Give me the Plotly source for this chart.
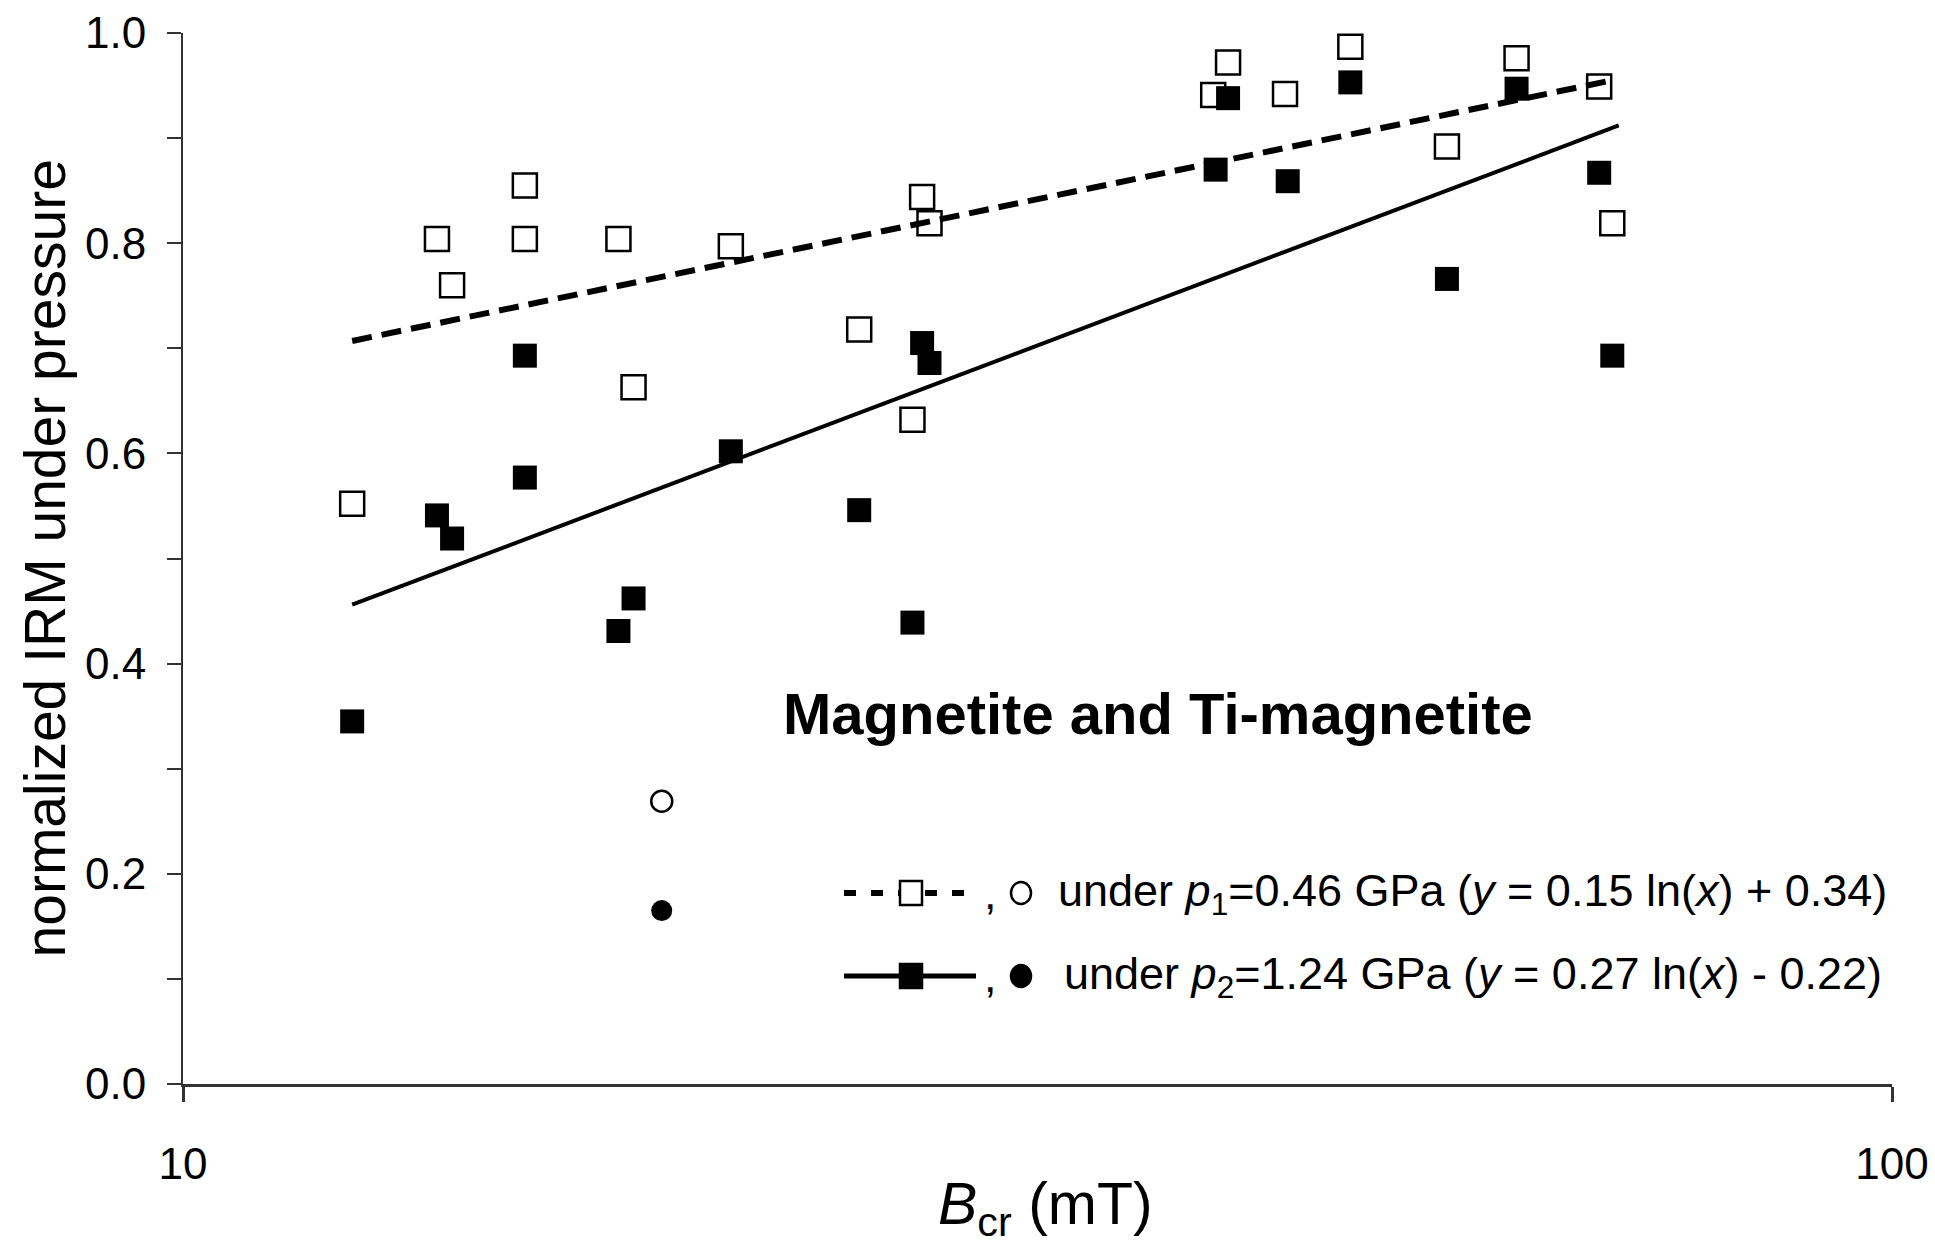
import plotly.graph_objects as go

# ---------------- data ----------------
bcr_p1 = [12.56, 14.08, 14.37, 15.85, 15.85, 17.98, 18.35, 20.92, 24.87, 26.72,
          27.07, 27.34, 40.07, 40.88, 44.14, 48.2, 54.9, 60.3, 67.4, 68.6]
irm_p1 = [0.552, 0.804, 0.760, 0.855, 0.804, 0.804, 0.663, 0.797, 0.718, 0.632,
          0.844, 0.819, 0.941, 0.972, 0.942, 0.987, 0.892, 0.976, 0.949, 0.819]

bcr_p2 = [12.56, 14.08, 14.37, 15.85, 15.85, 17.98, 18.35, 20.92, 24.87, 26.72,
          27.07, 27.34, 40.2, 40.88, 44.3, 48.2, 54.9, 60.3, 67.4, 68.6]
irm_p2 = [0.345, 0.541, 0.519, 0.693, 0.577, 0.431, 0.462, 0.602, 0.546, 0.439,
          0.705, 0.686, 0.870, 0.938, 0.859, 0.953, 0.766, 0.947, 0.867, 0.693]

# excluded sample (circles)
bcr_out = [19.06]
irm_out_p1 = [0.269]
irm_out_p2 = [0.165]

# logarithmic trend lines (end points)
fit1_x = [12.56, 68.6]
fit1_y = [0.707, 0.955]
fit2_x = [12.56, 69.2]
fit2_y = [0.456, 0.912]

y_ticks = [0.0, 0.2, 0.4, 0.6, 0.8, 1.0]
y_ticktext = ["0.0", "0.2", "0.4", "0.6", "0.8", "1.0"]
y_minor_ticks = [0.1, 0.3, 0.5, 0.7, 0.9]
x_ticks = [10, 100]
x_ticktext = ["10", "100"]

legend1 = "under <i>p</i><sub>1</sub>=0.46 GPa (<i>y</i> = 0.15 ln(<i>x</i>) + 0.34)"
legend2 = "under <i>p</i><sub>2</sub>=1.24 GPa (<i>y</i> = 0.27 ln(<i>x</i>) - 0.22)"
panel_title = "<b>Magnetite and Ti-magnetite</b>"
x_title = "<i>B</i><sub>cr</sub> (mT)"
y_title = "normalized IRM under pressure"

# ---------------- figure ----------------
FONT = "Liberation Sans, Arial, sans-serif"
OFF = 0                      # body margin is removed by the post script
WIN_W, WIN_H = 1935, 1253
PL, PR, PT, PB = 183, 1892, 33, 1084   # plot area in page pixels
W, H = WIN_W - 2 * OFF, WIN_H - 2 * OFF
ML, MT = PL - OFF, PT - OFF
MR, MB = OFF + W - PR, OFF + H - PB
PW, PH = PR - PL, PB - PT

def px(x):
    return (x - PL) / PW

def py(y):
    return (PB - y) / PH

MS = 24
DASH = "20px,10px"
LEG_DASH = "12px,15px"

fig = go.Figure()

fig.add_trace(go.Scatter(
    x=bcr_p1, y=irm_p1, mode="markers", showlegend=False,
    marker=dict(symbol="square", size=MS, color="white", line=dict(color="black", width=2.5)),
    cliponaxis=False))
fig.add_trace(go.Scatter(
    x=bcr_p2, y=irm_p2, mode="markers", showlegend=False,
    marker=dict(symbol="square", size=MS, color="black", line=dict(color="black", width=0)),
    cliponaxis=False))
fig.add_trace(go.Scatter(
    x=bcr_out, y=irm_out_p1, mode="markers", showlegend=False,
    marker=dict(symbol="circle", size=MS - 3, color="white", line=dict(color="black", width=2.5))))
fig.add_trace(go.Scatter(
    x=bcr_out, y=irm_out_p2, mode="markers", showlegend=False,
    marker=dict(symbol="circle", size=MS - 3, color="black", line=dict(color="black", width=0))))
fig.add_trace(go.Scatter(
    x=fit1_x, y=fit1_y, mode="lines", showlegend=False,
    line=dict(color="black", width=6, dash=DASH)))
fig.add_trace(go.Scatter(
    x=fit2_x, y=fit2_y, mode="lines", showlegend=False,
    line=dict(color="black", width=4)))

shapes = []
annotations = []

LEG_FONT = 45
rows = [
    dict(y=893, dash=LEG_DASH, lw=6, sq_fill="white", circ_fill="white", text=legend1, tx=1056),
    dict(y=976, dash="solid", lw=5, sq_fill="black", circ_fill="black", text=legend2, tx=1062),
]
for r in rows:
    yy = py(r["y"])
    shapes.append(dict(type="line", xref="paper", yref="paper",
                       x0=px(844), x1=px(976), y0=yy, y1=yy,
                       line=dict(color="black", width=r["lw"], dash=r["dash"])))
    shapes.append(dict(type="rect", xref="paper", yref="paper",
                       xsizemode="pixel", ysizemode="pixel",
                       xanchor=px(911), yanchor=yy,
                       x0=-11, x1=11, y0=-12, y1=12,
                       fillcolor=r["sq_fill"], line=dict(color="black", width=2.5)))
    shapes.append(dict(type="circle", xref="paper", yref="paper",
                       xsizemode="pixel", ysizemode="pixel",
                       xanchor=px(1021), yanchor=yy,
                       x0=-10, x1=10, y0=-11, y1=11,
                       fillcolor=r["circ_fill"], line=dict(color="black", width=2.5)))
    annotations.append(dict(text=",", xref="paper", yref="paper",
                            x=px(982), y=yy, xanchor="left", yanchor="middle",
                            showarrow=False, font=dict(family=FONT, size=LEG_FONT, color="black")))
    annotations.append(dict(text=r["text"], xref="paper", yref="paper",
                            x=px(r["tx"]), y=yy, xanchor="left", yanchor="middle",
                            showarrow=False, font=dict(family=FONT, size=LEG_FONT, color="black")))

annotations.append(dict(text=panel_title, xref="paper", yref="paper",
                        x=px(1158), y=py(713), xanchor="center", yanchor="middle",
                        showarrow=False, font=dict(family=FONT, size=58, color="black")))
annotations.append(dict(text=x_title, xref="paper", yref="paper",
                        x=px(1045), y=py(1208), xanchor="center", yanchor="middle",
                        showarrow=False, font=dict(family=FONT, size=59, color="black")))
annotations.append(dict(text=y_title, xref="paper", yref="paper",
                        x=px(44), y=0.5, xanchor="center", yanchor="middle", textangle=-90,
                        showarrow=False, font=dict(family=FONT, size=57, color="black")))

fig.update_layout(
    width=W, height=H,
    margin=dict(l=ML, r=MR, t=MT, b=MB, pad=0, autoexpand=False),
    paper_bgcolor="white", plot_bgcolor="white",
    font=dict(family=FONT, size=44, color="black"),
    shapes=shapes, annotations=annotations, showlegend=False,
)
fig.update_xaxes(
    type="log", range=[1, 2], tickvals=x_ticks, ticktext=x_ticktext,
    automargin=False, ticklabeloverflow="allow",
    showline=True, linecolor="#333333", linewidth=2.5, mirror=False,
    ticks="outside", ticklen=15, tickwidth=2.5, tickcolor="#333333",
    showgrid=False, zeroline=False, ticklabelstandoff=24,
    tickfont=dict(family=FONT, size=44, color="black"),
)
fig.update_yaxes(
    range=[0, 1], tickvals=y_ticks, ticktext=y_ticktext,
    automargin=False, ticklabeloverflow="allow",
    showline=True, linecolor="#333333", linewidth=2, mirror=False,
    ticks="outside", ticklen=14, tickwidth=2, tickcolor="#333333",
    minor=dict(tickvals=y_minor_ticks, ticks="outside", ticklen=14, tickwidth=2,
               tickcolor="#333333", showgrid=False),
    showgrid=False, zeroline=False, ticklabelstandoff=12,
    tickfont=dict(family=FONT, size=44, color="black"),
)

fig.write_html("out.html",
               config={"displayModeBar": False},
               post_script="document.body.style.margin='0px';document.body.style.overflow='hidden';")
